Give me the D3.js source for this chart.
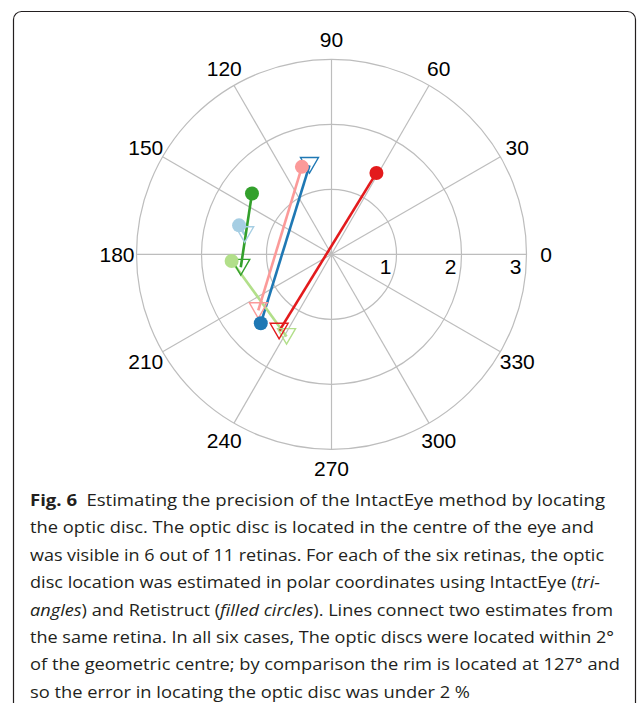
<!DOCTYPE html>
<html>
<head>
<meta charset="utf-8">
<script src="https://d3js.org/d3.v7.min.js"></script>
<style>
    body { margin: 0; background: #fff; }
    .grid { fill: none; stroke: #bdbdbd; stroke-width: 1.2; }
    .lbl { font-family: "Liberation Sans", Arial, sans-serif; font-size: 21px; fill: #000; }
    .cap { font-family: "Open Sans", "Noto Sans", sans-serif; font-size: 16.5px; fill: #231f20; }
</style>
</head>
<body>
<svg width="637" height="703"></svg>
<script>
    // polar estimates of the optic disc, one entry per retina
    var intactAngle = [167.2, 103.9, 241.3, 188.1, 217.5, 235.7];
    var intactRadius = [1.37, 1.41, 1.44, 1.41, 1.42, 1.43];
    var retiAngle = [162.6, 224.3, 183.8, 142.6, 108.7, 61.1];
    var retiRadius = [1.49, 1.52, 1.54, 1.54, 1.42, 1.43];

    var angleTicks = [0, 30, 60, 90, 120, 150, 180, 210, 240, 270, 300, 330];
    var radiusTicks = [1, 2, 3];

    var captionLines = [
        [["b", "Fig. 6"], ["n", "\u2002Estimating the precision of the IntactEye method by locating"]],
        [["n", "the optic disc. The optic disc is located in the centre of the eye and"]],
        [["n", "was visible in 6 out of 11 retinas. For each of the six retinas, the optic"]],
        [["n", "disc location was estimated in polar coordinates using IntactEye ("], ["i", "tri-"]],
        [["i", "angles"], ["n", ") and Retistruct ("], ["i", "filled circles"], ["n", "). Lines connect two estimates from"]],
        [["n", "the same retina. In all six cases, The optic discs were located within 2\u00b0"]],
        [["n", "of the geometric centre; by comparison the rim is located at 127\u00b0 and"]],
        [["n", "so the error in locating the optic disc was under 2 %"]]
    ];
    var captionEnds = [605, 594, 604, 600, 613, 614, 620, 470];

    var svg = d3.select("svg");
    var cx = 331.5, cy = 254.3;

    // frame
    svg.append("rect")
        .attr("x", 13.5).attr("y", 11.5)
        .attr("width", 622).attr("height", 740)
        .attr("rx", 8)
        .attr("fill", "none")
        .attr("stroke", "#231f20")
        .attr("stroke-width", 1.2);

    var r = d3.scaleLinear().domain([0, 3]).range([0, 195]);
    var rad = function (deg) { return deg * Math.PI / 180; };
    var px = function (a, v) { return r(v) * Math.cos(rad(a)); };
    var py = function (a, v) { return -r(v) * Math.sin(rad(a)); };

    var g = svg.append("g").attr("transform", "translate(" + cx + "," + cy + ")");

    g.selectAll(".ring")
        .data(radiusTicks)
        .enter().append("circle")
        .attr("class", "grid")
        .attr("r", function (d) { return r(d); });

    g.selectAll(".spoke")
        .data(angleTicks)
        .enter().append("line")
        .attr("class", "grid")
        .attr("x1", 0).attr("y1", 0)
        .attr("x2", function (d) { return px(d, 3); })
        .attr("y2", function (d) { return py(d, 3); });

    g.selectAll(".alab")
        .data(angleTicks)
        .enter().append("text")
        .attr("class", "lbl")
        .attr("text-anchor", "middle")
        .attr("dy", "0.36em")
        .attr("x", function (d) { return px(d, 3.3); })
        .attr("y", function (d) { return py(d, 3.3); })
        .text(function (d) { return d; });

    g.selectAll(".rlab")
        .data(radiusTicks)
        .enter().append("text")
        .attr("class", "lbl")
        .attr("text-anchor", "end")
        .attr("x", function (d) { return r(d) - 5; })
        .attr("y", 20)
        .text(function (d) { return d; });

    var colour = d3.schemePaired;
    var idx = d3.range(intactAngle.length);

    g.selectAll(".link")
        .data(idx)
        .enter().append("line")
        .attr("stroke", function (i) { return colour[i]; })
        .attr("stroke-width", 2.6)
        .attr("x1", function (i) { return px(retiAngle[i], retiRadius[i]); })
        .attr("y1", function (i) { return py(retiAngle[i], retiRadius[i]); })
        .attr("x2", function (i) { return px(intactAngle[i], intactRadius[i]); })
        .attr("y2", function (i) { return py(intactAngle[i], intactRadius[i]); });

    var s = 18, h = 15.6;
    var tri = "M" + (-s / 2) + "," + (-h / 2) + "L" + (s / 2) + "," + (-h / 2) + "L0," + (h / 2) + "Z";

    g.selectAll(".tri")
        .data(idx)
        .enter().append("path")
        .attr("d", tri)
        .attr("fill", "none")
        .attr("stroke", function (i) { return colour[i]; })
        .attr("stroke-width", 1.4)
        .attr("transform", function (i) {
            return "translate(" + px(intactAngle[i], intactRadius[i]) + "," + py(intactAngle[i], intactRadius[i]) + ")";
        });

    g.selectAll(".dot")
        .data(idx)
        .enter().append("circle")
        .attr("r", 7)
        .attr("fill", function (i) { return colour[i]; })
        .attr("cx", function (i) { return px(retiAngle[i], retiRadius[i]); })
        .attr("cy", function (i) { return py(retiAngle[i], retiRadius[i]); });

    // caption
    var x0 = 30, y0 = 506, lead = 27.4;
    captionLines.forEach(function (parts, k) {
        var t = svg.append("text")
            .attr("class", "cap")
            .attr("x", x0)
            .attr("y", y0 + k * lead);
        parts.forEach(function (p) {
            var sp = t.append("tspan").text(p[1]);
            if (p[0] === "b") sp.attr("font-weight", "bold");
            if (p[0] === "i") sp.attr("font-style", "italic");
        });
        t.attr("textLength", captionEnds[k] - x0).attr("lengthAdjust", "spacingAndGlyphs");
    });
</script>
</body>
</html>
